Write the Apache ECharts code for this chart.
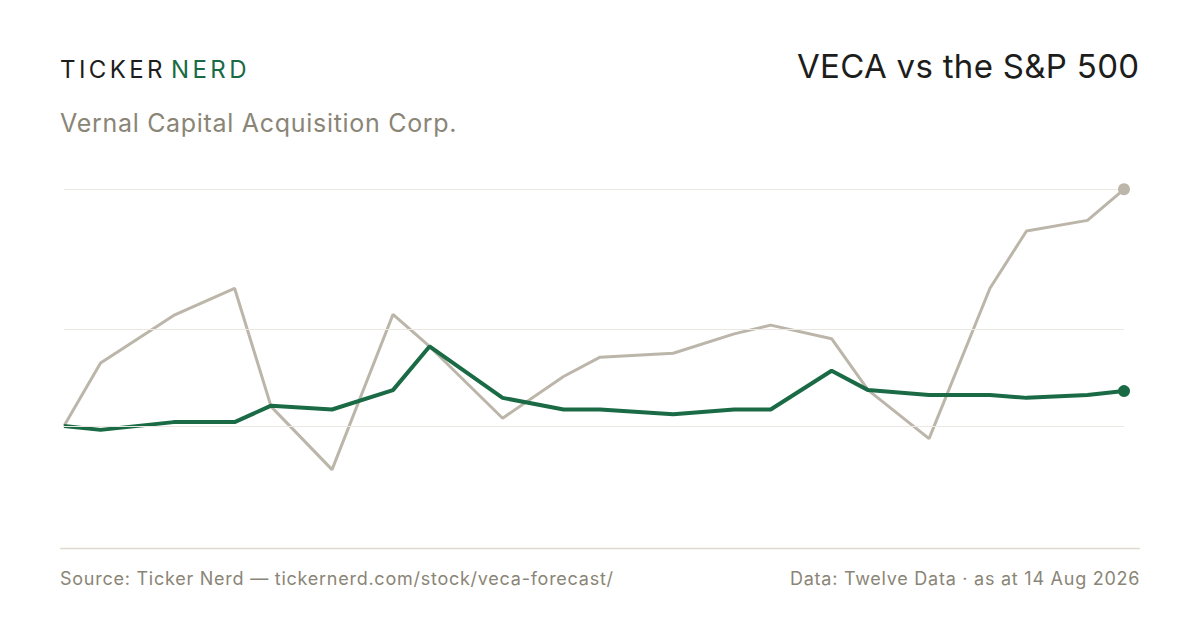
<!DOCTYPE html>
<html>
<head>
<meta charset="utf-8">
<title>VECA vs the S&amp;P 500</title>
<script src="https://cdn.jsdelivr.net/npm/echarts@6/dist/echarts.min.js"></script>
<style>
  html, body { margin: 0; padding: 0; background: #ffffff; }
  #chart { width: 1200px; height: 630px; }
</style>
</head>
<body>
<div id="chart"></div>
<script>
// VECA vs the S&P 500 — % change since first point

const DATES = [
  '2026-05-19', '2026-05-22', '2026-05-28', '2026-06-02', '2026-06-05',
  '2026-06-10', '2026-06-15', '2026-06-18', '2026-06-24', '2026-06-29',
  '2026-07-02', '2026-07-08', '2026-07-13', '2026-07-16', '2026-07-21',
  '2026-07-24', '2026-07-29', '2026-08-03', '2026-08-06', '2026-08-11',
  '2026-08-14',
];

// VECA (green)
const VECA = [
  0, -0.4, 0.4, 0.4, 2.1, 1.7, 3.7, 8.2, 2.9, 1.7,
  1.7, 1.2, 1.7, 1.7, 5.7, 3.7, 3.2, 3.2, 2.9, 3.2,
  3.6,
];

// S&P 500 (grey)
const SPX = [
  0, 6.5, 11.4, 14.2, 2.0, -4.5, 11.5, 8.2, 0.8, 5.1,
  7.1, 7.5, 9.5, 10.4, 9.0, 3.7, -1.3, 14.2, 20.1, 21.2,
  24.4,
];

const GRID_VALUES = [0, 10, 24.4];

const GREEN = '#1a6b45';
const GREY = '#bcb6aa';
const MUTED = '#8a8576';
const FONT = 'Inter, "Noto Sans", sans-serif';

// extra tracking per text (svg letter-spacing, px)
const TRACKING = {
  'TICKER': 3.4,
  'NERD': 3.4,
  'Vernal Capital Acquisition Corp.': 0.7,
  'VECA vs the S&P 500': 0.3,
  'Source: Ticker Nerd — tickernerd.com/stock/veca-forecast/': 0.75,
  'Data: Twelve Data · as at 14 Aug 2026': 0.75,
};

function pairs(values) {
  return DATES.map((d, i) => [d, values[i]]);
}

function endDot(values, color) {
  const last = values.length - 1;
  return {
    type: 'scatter',
    data: [[DATES[last], values[last]]],
    symbolSize: 12,
    itemStyle: { color, opacity: 1 },
    silent: true,
    z: 5,
  };
}

const chart = echarts.init(document.getElementById('chart'), null, { renderer: 'svg' });

chart.setOption({
  animation: false,
  backgroundColor: '#ffffff',
  grid: { left: 64, right: 76, top: 183.5, bottom: 107 },
  xAxis: {
    type: 'time',
    min: DATES[0],
    max: DATES[DATES.length - 1],
    show: false,
  },
  yAxis: {
    type: 'value',
    min: -10,
    max: 25,
    show: false,
    splitLine: { show: false },
  },
  graphic: [
    { type: 'text', left: 60, top: 57, style: { text: 'TICKER', font: '400 24px ' + FONT, fill: '#1d1d1b' } },
    { type: 'text', left: 171, top: 57, style: { text: 'NERD', font: '400 24px ' + FONT, fill: GREEN } },
    { type: 'text', left: 60, top: 110, style: { text: 'Vernal Capital Acquisition Corp.', font: '400 25px ' + FONT, fill: MUTED } },
    // tracked text is placed from its left edge so the extra spacing does not push it past the margin
    { type: 'text', left: 797, top: 49, style: { text: 'VECA vs the S&P 500', font: '400 33px ' + FONT, fill: '#1d1d1b' } },
    {
      type: 'line', silent: true,
      shape: { x1: 60, y1: 548.5, x2: 1140, y2: 548.5 },
      style: { stroke: '#ddd9cf', lineWidth: 1.5 },
    },
    { type: 'text', left: 60, top: 569, style: { text: 'Source: Ticker Nerd — tickernerd.com/stock/veca-forecast/', font: '400 18px ' + FONT, fill: MUTED } },
    { type: 'text', left: 790, top: 569, style: { text: 'Data: Twelve Data · as at 14 Aug 2026', font: '400 18px ' + FONT, fill: MUTED } },
  ],
  series: [
    {
      // horizontal guide lines
      type: 'line',
      data: [],
      silent: true,
      z: 1,
      markLine: {
        silent: true,
        symbol: 'none',
        label: { show: false },
        lineStyle: { color: '#ebe8e2', width: 1, type: 'solid' },
        data: GRID_VALUES.map(v => ({ yAxis: v })),
      },
    },
    {
      name: 'S&P 500',
      type: 'line',
      data: pairs(SPX),
      showSymbol: false,
      lineStyle: { color: GREY, width: 3 },
      itemStyle: { color: GREY },
      z: 2,
    },
    {
      name: 'VECA',
      type: 'line',
      data: pairs(VECA),
      showSymbol: false,
      lineStyle: { color: GREEN, width: 4 },
      itemStyle: { color: GREEN },
      z: 3,
    },
    endDot(SPX, GREY),
    endDot(VECA, GREEN),
  ],
});

// wordmark and captions are slightly tracked out
function applyTracking() {
  document.querySelectorAll('#chart svg text').forEach(t => {
    const s = TRACKING[t.textContent];
    if (s) t.setAttribute('letter-spacing', s);
  });
}
chart.on('finished', applyTracking);
applyTracking();
</script>
</body>
</html>
